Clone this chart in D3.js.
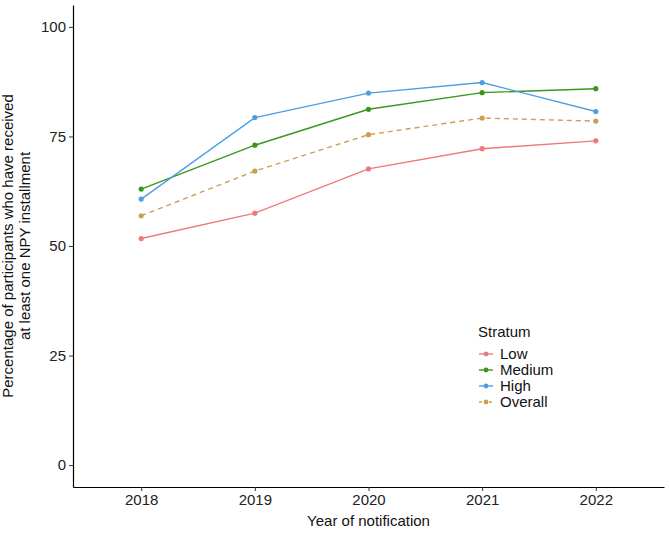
<!DOCTYPE html>
<html>
<head>
<meta charset="utf-8">
<script src="https://cdn.jsdelivr.net/npm/d3@7"></script>
<style>
  body { margin: 0; background: #fff; }
  svg { display: block; font-family: Arial, "Liberation Sans", sans-serif; }
</style>
</head>
<body>
<svg id="chart" width="669" height="533"></svg>
<script>
const years = ["2018", "2019", "2020", "2021", "2022"];
const strata = ["Low", "Medium", "High", "Overall"];
const lowValues = [51.7, 57.5, 67.6, 72.2, 74.0];
const mediumValues = [63.0, 73.0, 81.2, 85.0, 85.9];
const highValues = [60.7, 79.3, 84.9, 87.3, 80.7];
const overallValues = [56.9, 67.1, 75.4, 79.2, 78.5];
const yTicks = [0, 25, 50, 75, 100];
const colors = ["#ED7A7B", "#3A961E", "#4D9EE3", "#C9A04C"];

const seriesValues = [lowValues, mediumValues, highValues, overallValues];
const series = strata.map((s, i) => ({
  name: s,
  color: colors[i],
  dashed: s === "Overall",
  values: years.map((yr, j) => ({ year: yr, value: seriesValues[i][j] }))
}));

const svg = d3.select("#chart");
const pLeft = 73, pRight = 664, pTop = 5, pBottom = 487;

const x = d3.scalePoint().domain(years).range([pLeft, pRight]).padding(0.6);
const y = d3.scaleLinear().domain([-5, 105]).range([pBottom, pTop]);

// Axes
const xAxis = svg.append("g").attr("transform", `translate(0,${pBottom})`)
  .call(d3.axisBottom(x).tickSize(4).tickSizeOuter(0).tickPadding(3));
const yAxis = svg.append("g").attr("transform", `translate(${pLeft},0)`)
  .call(d3.axisLeft(y).tickValues(yTicks).tickSize(4).tickSizeOuter(0).tickPadding(3));
[xAxis, yAxis].forEach(a => {
  a.select(".domain").attr("stroke", "#000").attr("stroke-width", 1.2);
  a.selectAll(".tick line").attr("stroke", "#333").attr("stroke-width", 1);
  a.selectAll(".tick text").attr("font-size", 15).attr("fill", "#222")
    .attr("font-family", "Arial, 'Liberation Sans', sans-serif");
});
xAxis.selectAll(".tick text").attr("dy", "0.71em");

// Axis titles
svg.append("text").attr("x", (pLeft + pRight) / 2).attr("y", 526)
  .attr("text-anchor", "middle").attr("font-size", 15).attr("fill", "#111")
  .text("Year of notification");

const yt = svg.append("text")
  .attr("transform", `translate(0,${(pTop + pBottom) / 2}) rotate(-90)`)
  .attr("text-anchor", "middle").attr("font-size", 15).attr("fill", "#111");
yt.append("tspan").attr("x", 0).attr("y", 13).text("Percentage of participants who have received");
yt.append("tspan").attr("x", 0).attr("y", 30).text("at least one NPY installment");

// Lines
const line = d3.line().x(d => x(d.year)).y(d => y(d.value));
const g = svg.append("g");
series.forEach(s => {
  g.append("path").datum(s.values)
    .attr("d", line).attr("fill", "none")
    .attr("stroke", s.color).attr("stroke-width", 1.4)
    .attr("stroke-dasharray", s.dashed ? "5,4" : null);
  g.selectAll(null).data(s.values).enter().append("circle")
    .attr("cx", d => x(d.year)).attr("cy", d => y(d.value))
    .attr("r", 2.6).attr("fill", s.color);
});

// Legend
const lg = svg.append("g").attr("transform", "translate(478,0)");
lg.append("text").attr("x", 0).attr("y", 332).attr("dy", "0.35em")
  .attr("font-size", 15).attr("fill", "#111").text("Stratum");
const rowY = d3.scalePoint().domain(strata).range([354, 402]);
strata.forEach((s, i) => {
  const yy = rowY(s);
  lg.append("line").attr("x1", 1).attr("x2", 15).attr("y1", yy).attr("y2", yy)
    .attr("stroke", colors[i]).attr("stroke-width", 1.4)
    .attr("stroke-dasharray", s === "Overall" ? "3,2" : null);
  lg.append("circle").attr("cx", 8).attr("cy", yy).attr("r", 2.4).attr("fill", colors[i]);
  lg.append("text").attr("x", 22).attr("y", yy).attr("dy", "0.35em")
    .attr("font-size", 15).attr("fill", "#111").text(s);
});
</script>
</body>
</html>
